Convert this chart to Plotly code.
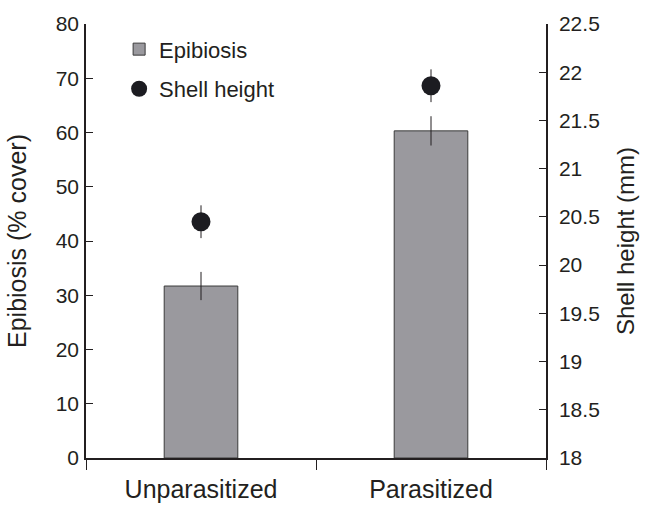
import plotly.graph_objects as go

categories = ["Unparasitized", "Parasitized"]
epibiosis = [31.7, 60.3]
epibiosis_se = [2.6, 2.7]
shell_height = [20.45, 21.86]
shell_height_se = [0.17, 0.17]

left_ticks = [0, 10, 20, 30, 40, 50, 60, 70, 80]
right_ticks = [18, 18.5, 19, 19.5, 20, 20.5, 21, 21.5, 22, 22.5]
right_ticktext = ["18", "18.5", "19", "19.5", "20", "20.5", "21", "21.5", "22", "22.5"]

FONT = "Liberation Sans, Arial, Helvetica, sans-serif"
INK = "#231f20"

fig = go.Figure()
fig.add_trace(go.Bar(
    x=categories, y=epibiosis, name="Epibiosis", width=0.32,
    marker=dict(color="#9a999e", line=dict(color="#3a3a3a", width=1)),
    error_y=dict(type="data", array=epibiosis_se, color=INK, thickness=1, width=0),
    legendgroup="a", yaxis="y",
))
fig.add_trace(go.Scatter(
    x=categories, y=shell_height, name="Shell height", mode="markers",
    marker=dict(color="#1c1c21", size=19),
    error_y=dict(type="data", array=shell_height_se, color=INK, thickness=1, width=0),
    legendgroup="b", yaxis="y2",
))

fig.update_layout(
    width=648, height=515,
    margin=dict(l=86, r=102, t=20, b=43),
    paper_bgcolor="white", plot_bgcolor="white",
    font=dict(family=FONT, color=INK, size=20),
    showlegend=True,
    legend=dict(x=0.072, y=0.99, xanchor="left", yanchor="top",
                font=dict(size=22, color=INK), tracegroupgap=8,
                bgcolor="rgba(0,0,0,0)", itemsizing="trace"),
    xaxis=dict(type="category", tickson="boundaries", ticks="outside", ticklen=10,
               tickcolor=INK, showline=True, linecolor=INK, linewidth=1.5,
               showgrid=False, tickfont=dict(size=25), range=[-0.5, 1.5],
               ticklabelstandoff=8),
    yaxis=dict(range=[0, 80], tickvals=left_ticks, ticks="inside", ticklen=7,
               tickcolor=INK, showline=True, linecolor=INK, linewidth=1.5,
               showgrid=False, zeroline=False, tickfont=dict(size=21),
               ticklabelstandoff=1,
               title=dict(text="Epibiosis (% cover)", font=dict(size=25), standoff=22)),
    yaxis2=dict(range=[18, 22.5], tickvals=right_ticks, ticktext=right_ticktext,
                overlaying="y", side="right", ticks="inside", ticklen=7,
                tickcolor=INK, showline=True, linecolor=INK, linewidth=1.5,
                showgrid=False, zeroline=False, tickfont=dict(size=21),
                ticklabelstandoff=7,
                title=dict(text="Shell height (mm)", font=dict(size=24), standoff=18)),
)

fig.write_html(
    "out.html",
    config={"displayModeBar": False},
    post_script="document.body.style.margin='0';document.body.style.overflow='hidden';",
)
